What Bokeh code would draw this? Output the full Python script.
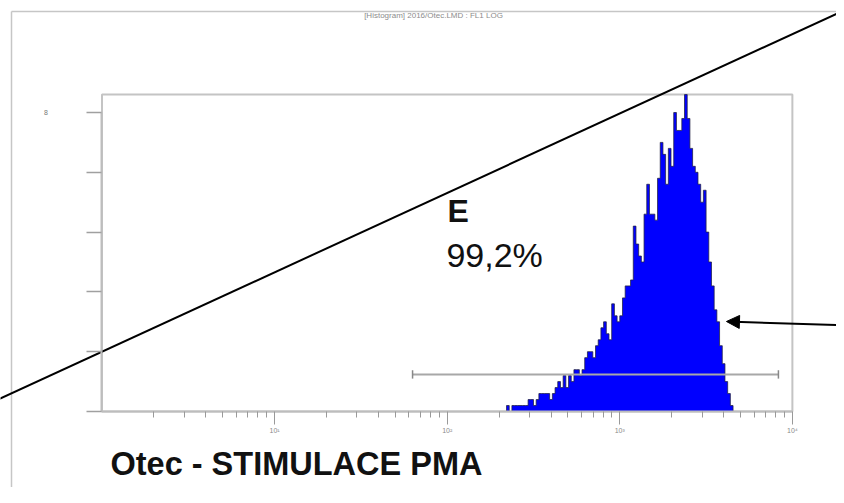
import numpy as np
from bokeh.plotting import figure
from bokeh.models import (Range1d, LogAxis, LinearAxis, FixedTicker, Label, Arrow,
                          NormalHead, NoOverlap)
from bokeh.embed import file_html
from bokeh.resources import INLINE

# ---- data (256 channels over 4 decades) ----
channels = list(range(150, 235))
counts = [1, 0, 1, 1, 1, 1, 1, 1, 2, 2,
          1, 2, 3, 3, 3, 3, 2, 3, 4, 5,
          4, 6, 4, 6, 5, 7, 7, 6, 7, 9,
          10, 10, 9, 11, 12, 14, 15, 13, 12, 18,
          16, 15, 16, 19, 21, 21, 22, 31, 28, 26,
          25, 33, 38, 33, 33, 32, 39, 45, 43, 38,
          44, 41, 50, 47, 47, 49, 53, 49, 44, 41,
          40, 38, 35, 37, 30, 25, 21, 17, 15, 11,
          8, 5, 3, 1, 0]
channels_per_decade = 64

# axes
x_min, x_max = 1, 10000
x_major = [10, 100, 1000, 10000]
x_tick_labels = ["10\u00b9", "10\u00b2", "10\u00b3", "10\u2074"]
x_minor_base = [1, 10, 100, 1000]
y_ticks = [50, 40, 30, 20, 10, 0]
y_top = 53
y_top_label = "8"

# gate marker (region E)
gate_lo, gate_hi, gate_y = 63.0, 8300.0, 6.2
gate_name = "E"
gate_pct = "99,2%"

# annotation line and arrow (read in data units)
diag_x = [0.25, 20000.0]
diag_y = [2.0, 67.1]
arrow_from = (20000.0, 14.4)
arrow_to = (4150.0, 15.05)

title_text = "[Histogram] 2016/Otec.LMD : FL1 LOG"
caption = "Otec - STIMULACE PMA"

# ---- view ----
x_view = (0.2582, 18013.0)
y_view = (-12.71, 68.73)
outer_x, outer_y = 0.299, 66.9

FONT = "Liberation Sans"

p = figure(width=836, height=487, output_backend="svg", toolbar_location=None,
           x_axis_type="log", x_axis_location=None, y_axis_location=None,
           x_range=Range1d(*x_view), y_range=Range1d(*y_view),
           min_border=0, min_border_left=0, min_border_right=0,
           min_border_top=0, min_border_bottom=0,
           outline_line_color=None, background_fill_color="white",
           border_fill_color="white")
p.grid.visible = False

# outer window frame
p.line(x=[outer_x, x_view[1] * 10], y=[outer_y, outer_y], line_color="#c6c6c6", line_width=1.5)
p.line(x=[outer_x, outer_x], y=[outer_y, y_view[0] - 10], line_color="#c6c6c6", line_width=1.5)

# inner plot frame
p.quad(left=[x_min], right=[x_max], bottom=[0], top=[y_top],
       fill_color=None, line_color="#c4c4c4", line_width=2)

# histogram as one step polygon
ch = np.array(channels, dtype=float)
left = 10 ** (ch / channels_per_decade)
right = 10 ** ((ch + 1) / channels_per_decade)
sx, sy = [], []
for l, r, c in zip(left, right, counts):
    sx += [l, r]
    sy += [c, c]
p.patch(x=[left[0]] + sx + [right[-1]], y=[0] + sy + [0],
        fill_color="#0000ff", line_color=None)
p.line(x=[left[0]] + sx + [right[-1]], y=[0] + sy + [0],
       line_color="#202040", line_width=1, line_alpha=0.75)

# gate marker
p.segment(x0=[gate_lo], y0=[gate_y], x1=[gate_hi], y1=[gate_y], line_color="#a8a8a8", line_width=2)
p.segment(x0=[gate_lo, gate_hi], y0=[gate_y - 0.7, gate_y - 0.7],
          x1=[gate_lo, gate_hi], y1=[gate_y + 0.7, gate_y + 0.7],
          line_color="#888888", line_width=1.5)

# diagonal annotation line
p.line(x=diag_x, y=diag_y, line_color="black", line_width=2)

# arrow
p.add_layout(Arrow(x_start=arrow_from[0], y_start=arrow_from[1],
                   x_end=arrow_to[0], y_end=arrow_to[1],
                   line_color="black", line_width=2,
                   end=NormalHead(size=13, fill_color="black", line_color="black")))

# axes
xaxis = LogAxis(fixed_location=0, bounds=(x_min, x_max),
                ticker=FixedTicker(ticks=x_major,
                                   minor_ticks=[d * m for d in x_minor_base for m in range(2, 10)]))
xaxis.major_label_overrides = {t: l for t, l in zip(x_major, x_tick_labels)}
xaxis.axis_line_color = "#bdbdbd"
xaxis.axis_line_width = 2
xaxis.major_tick_line_color = "#999999"
xaxis.minor_tick_line_color = "#999999"
xaxis.major_tick_in = 0
xaxis.major_tick_out = 13
xaxis.minor_tick_in = 0
xaxis.minor_tick_out = 6
xaxis.major_label_text_font = FONT
xaxis.major_label_text_font_size = "7px"
xaxis.major_label_text_color = "#8a8a8a"
xaxis.major_label_standoff = 3
p.add_layout(xaxis, "below")

yaxis = LinearAxis(fixed_location=x_min, bounds=(0, max(y_ticks)),
                   ticker=FixedTicker(ticks=y_ticks, minor_ticks=[]))
yaxis.major_label_overrides = {max(y_ticks): y_top_label}
yaxis.major_label_policy = NoOverlap(min_distance=2000)
yaxis.axis_line_color = "#bdbdbd"
yaxis.axis_line_width = 2
yaxis.major_tick_line_color = "#a0a0a0"
yaxis.major_tick_line_width = 1.5
yaxis.major_tick_in = 0
yaxis.major_tick_out = 15
yaxis.major_label_text_font = FONT
yaxis.major_label_text_font_size = "7px"
yaxis.major_label_text_color = "#777777"
yaxis.major_label_standoff = 39
p.add_layout(yaxis, "left")

# texts
p.add_layout(Label(x=83.3, y=66.2, text=title_text, text_align="center",
                   text_baseline="middle", text_font=FONT, text_font_size="8px",
                   text_color="#8c8c8c"))
p.add_layout(Label(x=100.4, y=33.6, text=gate_name, text_font=FONT,
                   text_font_size="32px", text_font_style="bold", text_color="#111111",
                   text_baseline="alphabetic"))
p.add_layout(Label(x=99.0, y=26.1, text=gate_pct, text_font=FONT,
                   text_font_size="34px", text_color="#111111", text_baseline="alphabetic"))
p.add_layout(Label(x=1.12, y=-8.7, text=caption, text_font=FONT,
                   text_font_size="32.5px", text_font_style="bold", text_color="#111111",
                   text_baseline="alphabetic"))

open("out.html", "w").write(file_html(p, INLINE))
